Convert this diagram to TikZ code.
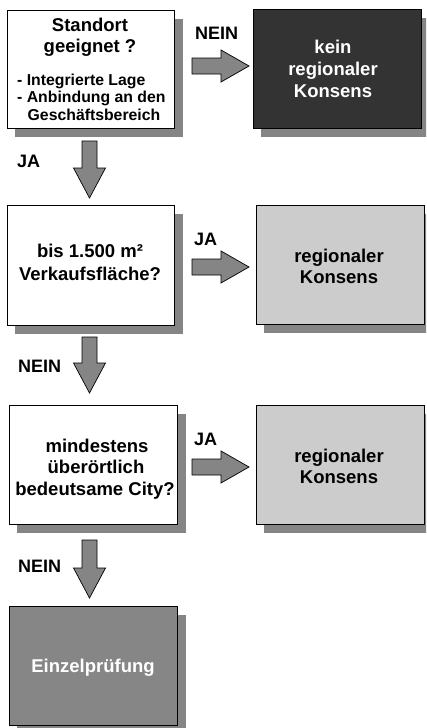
\documentclass[tikz,border=0pt]{standalone}
\usepackage{fontspec}
\setmainfont{Liberation Sans}
\begin{document}
\begin{tikzpicture}[x=1pt,y=-1pt,
  box/.style={draw=black,line width=0.8pt},
  shadowbox/.style={fill=shadowgray},
  barrow/.style={draw=black,line width=0.7pt,fill=arrowgray,line join=miter},
  big/.style={font=\fontsize{18.5}{22}\selectfont\bfseries,inner sep=0pt,anchor=base},
  small/.style={font=\fontsize{15.8}{17}\selectfont\bfseries,inner sep=0pt,anchor=base west},
  lbl/.style={font=\fontsize{18}{21}\selectfont\bfseries,inner sep=0pt,anchor=base west}]
\definecolor{shadowgray}{HTML}{858585}
\definecolor{arrowgray}{HTML}{858585}
\definecolor{darkbox}{HTML}{333333}
\definecolor{lightbox}{HTML}{CCCCCC}
\definecolor{midbox}{HTML}{868686}
\useasboundingbox (0,0) rectangle (426,728);
\clip (0,0) rectangle (426,728);
\fill[white] (0,0) rectangle (426,728);
% shadows
\fill[shadowgray] (15,19) rectangle (183,137);
\fill[shadowgray] (261,18) rectangle (429,137);
\fill[shadowgray] (15,214) rectangle (183,334);
\fill[shadowgray] (264,214) rectangle (432,333);
\fill[shadowgray] (17,414) rectangle (186,533);
\fill[shadowgray] (264,414) rectangle (432,533);
\fill[shadowgray] (17,615) rectangle (186,734);
% boxes
\draw[box,fill=white] (7,10) rectangle (174,128) coordinate (b1se);
\coordinate (b1) at (90.5,69);
\draw[box,fill=darkbox] (253,9) rectangle (421,128);
\coordinate (r1) at (337,68);
\draw[box,fill=white] (7,205) rectangle (174,325);
\coordinate (b2) at (90.5,265);
\draw[box,fill=lightbox] (256,205) rectangle (424,324);
\coordinate (r2) at (340,265);
\draw[box,fill=white] (9,405) rectangle (177,524);
\coordinate (b3) at (93,465);
\draw[box,fill=lightbox] (256,405) rectangle (424,524);
\coordinate (r3) at (340,465);
\draw[box,fill=midbox] (9,606) rectangle (177,725);
\coordinate (b4) at (93,665);
% texts
\node[big] (t1a) at (90,31.5) {Standort};
\node[big] (t1b) at (90,52.5) {geeignet ?};
\node[small] (t1c) at (17,85) {- Integrierte Lage};
\node[small] (t1d) at (17,102) {- Anbindung an den};
\node[small] (t1e) at (27.5,120) {Geschäftsbereich};
\node[big,text=white] (tr1a) at (333,53) {kein};
\node[big,text=white] (tr1b) at (333,75.5) {regionaler};
\node[big,text=white] (tr1c) at (333,97) {Konsens};
\node[big] (t2a) at (90,257) {bis 1.500 m²};
\node[big] (t2b) at (90,280) {Verkaufsfläche?};
\node[big] (tr2a) at (339,262) {regionaler};
\node[big] (tr2b) at (339,283) {Konsens};
\node[big] (t3a) at (97,452) {mindestens};
\node[big] (t3b) at (96,473) {überörtlich};
\node[big] (t3c) at (95,495) {bedeutsame City?};
\node[big] (tr3a) at (339,462) {regionaler};
\node[big] (tr3b) at (339,483) {Konsens};
\node[big,text=white] (t4) at (93,672) {Einzelprüfung};
% labels
\node[lbl] (l1) at (195,39) {NEIN};
\node[lbl] (l2) at (17,167) {JA};
\node[lbl] (l3) at (194,245) {JA};
\node[lbl] (l4) at (18,372) {NEIN};
\node[lbl] (l5) at (194,445) {JA};
\node[lbl] (l6) at (18,572) {NEIN};
% right block arrows
\foreach \yc in {66,267,467}{
  \draw[barrow] (192,\yc-8) -- (221,\yc-8) -- (221,\yc-16) -- (249,\yc)
    -- (221,\yc+16) -- (221,\yc+8) -- (192,\yc+8) -- cycle;
}
% down block arrows
\foreach \yt/\yb/\ya in {141/168/198, 337/363/393, 540/568/598}{
  \draw[barrow] (82,\yt) -- (97,\yt) -- (97,\yb) -- (105.5,\yb) -- (89.5,\ya)
    -- (73.5,\yb) -- (82,\yb) -- cycle;
}
\end{tikzpicture}
\end{document}
